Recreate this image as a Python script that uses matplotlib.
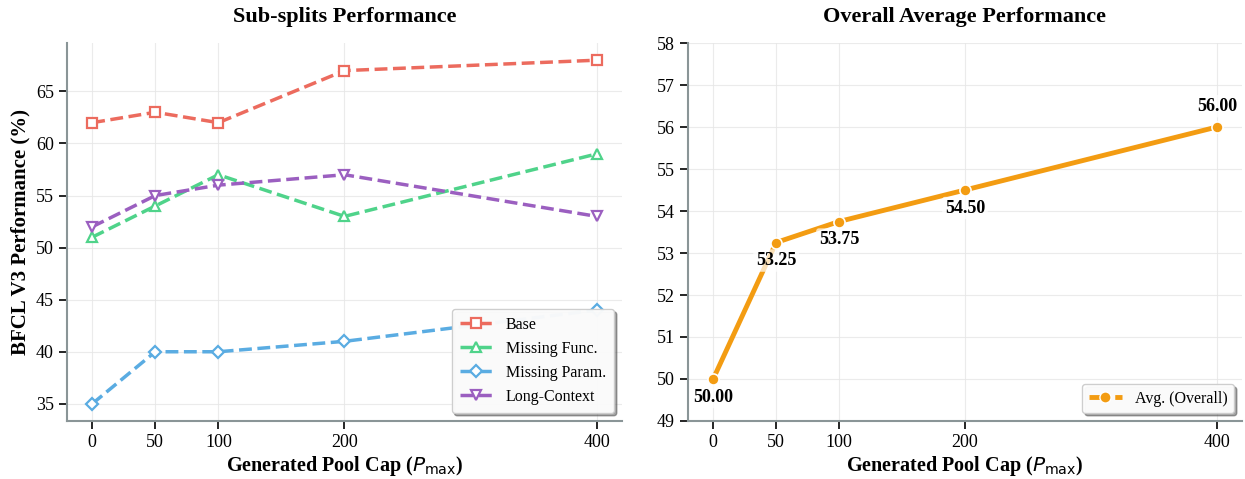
import matplotlib
matplotlib.use("Agg")
import matplotlib.pyplot as plt
from matplotlib.lines import Line2D

plt.rcParams['font.family'] = ['Liberation Serif', 'DejaVu Serif']
plt.rcParams['mathtext.fontset'] = 'dejavusans'

# data
caps = [0, 50, 100, 200, 400]
base = [62, 63, 62, 67, 68]
missing_func = [51, 54, 57, 53, 59]
missing_param = [35, 40, 40, 41, 44]
long_context = [52, 55, 56, 57, 53]
avg_overall = [50.00, 53.25, 53.75, 54.50, 56.00]

series = [
    ("Base", base, "#ec6b5e", "s"),
    ("Missing Func.", missing_func, "#4fd38a", "^"),
    ("Missing Param.", missing_param, "#5aace2", "D"),
    ("Long-Context", long_context, "#9b5fc0", "v"),
]
orange = "#f39c12"
spine_col = "#8a9597"

fig = plt.figure(figsize=(12.45, 4.79), dpi=100)
ax1 = fig.add_axes([0.0538, 0.1211, 0.4458, 0.7891])
ax2 = fig.add_axes([0.5526, 0.1211, 0.4450, 0.7891])

for ax in (ax1, ax2):
    ax.spines['top'].set_visible(False)
    ax.spines['right'].set_visible(False)
    for s in ('left', 'bottom'):
        ax.spines[s].set_color(spine_col)
        ax.spines[s].set_linewidth(1.5)
    ax.grid(True, color="#e6e6e6", linewidth=0.8, alpha=0.8)
    ax.set_axisbelow(True)
    ax.tick_params(axis='both', labelsize=13, length=6, width=1.2, colors='black')
    ax.set_xticks(caps)
    ax.set_xlim(-20, 420)
    ax.set_xlabel(r"Generated Pool Cap ($P_{\max}$)", fontsize=14.5, fontweight='bold',
                  labelpad=2)

# left panel
for name, vals, col, mk in series:
    ms = 6.5 if mk == "D" else 7.5
    ax1.plot(caps, vals, linestyle='--', color=col, linewidth=2.5, marker=mk,
             markersize=ms, markerfacecolor='white', markeredgecolor=col,
             markeredgewidth=1.6, label=name)
ax1.set_ylim(33.35, 69.65)
ax1.set_yticks([35, 40, 45, 50, 55, 60, 65])
ax1.set_ylabel("BFCL V3 Performance (%)", fontsize=15, fontweight='bold')
ax1.set_title("Sub-splits Performance", fontsize=16, fontweight='bold', pad=15)
ax1.legend(loc='lower right', fontsize=11.5, frameon=True, fancybox=True, shadow=True,
           framealpha=0.95, handlelength=2.1, borderpad=0.5)

# right panel
ax2.plot(caps, avg_overall, linestyle='-', color=orange, linewidth=3.5, marker='o',
         markersize=8, markerfacecolor=orange, markeredgecolor='white',
         markeredgewidth=1.2, zorder=3)
for i, (x, y) in enumerate(zip(caps, avg_overall)):
    dy = 15 if i == len(caps) - 1 else -13
    ax2.annotate(f"{y:.2f}", (x, y), textcoords='offset points', xytext=(0, dy),
                 ha='center', va='center', fontsize=13, fontweight='bold',
                 bbox=dict(boxstyle='round,pad=0.15', fc='white', ec='none', alpha=0.7),
                 zorder=4)
ax2.set_ylim(49, 58)
ax2.set_yticks(range(49, 59))
ax2.set_title("Overall Average Performance", fontsize=16, fontweight='bold', pad=15)
proxy = Line2D([0], [0], color=orange, linestyle='--', linewidth=3.5, marker='o',
               markersize=8, markerfacecolor=orange, markeredgecolor='white')
ax2.legend([proxy], ["Avg. (Overall)"], loc='lower right', fontsize=11.5, frameon=True,
           fancybox=True, shadow=True, framealpha=0.95, handlelength=2.1)

fig.savefig("out.png", dpi=100)
